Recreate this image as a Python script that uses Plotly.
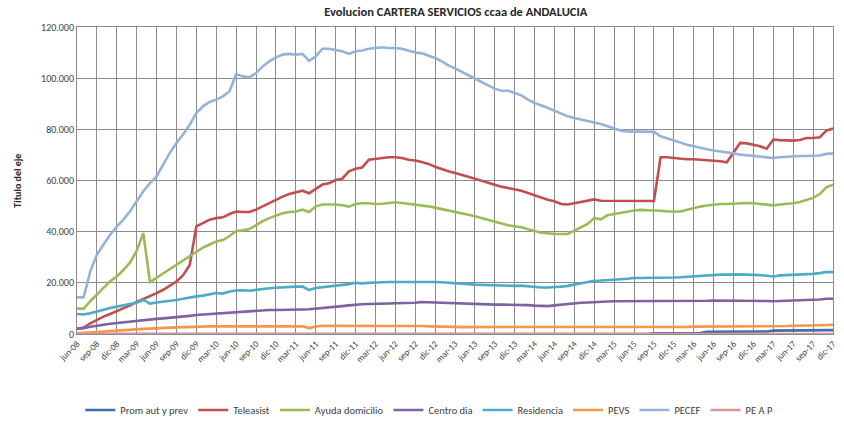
import plotly.graph_objects as go

# month axis: jun-08 .. dic-17
month_names = ["ene", "feb", "mar", "abr", "may", "jun", "jul", "ago", "sep", "oct", "nov", "dic"]
years = ["08", "09", "10", "11", "12", "13", "14", "15", "16", "17"]
months = [m + "-" + y for y in years for m in month_names][5:]

prom_aut = [0] * 87 + [300, 300, 300, 300, 300, 300, 400, 400,
                       900, 900, 900, 900, 900, 900, 900, 900, 1000, 1000,
                       1300, 1300, 1300, 1400, 1400, 1400, 1400, 1500, 1500, 1500]

teleasist = [2000, 2500, 4200, 5600, 6800, 7800, 8900, 9900, 11200, 12500,
             13600, 14800, 16000, 17300, 19000, 20500, 23000, 27000, 42100, 43400,
             44700, 45300, 45600, 46900, 47900, 47700, 47700, 48600, 49900, 51200,
             52500, 53700, 54700, 55400, 56000, 55000, 56800, 58400, 58900, 60200,
             60700, 63600, 64600, 65100, 68100, 68400, 68800, 69100, 69100, 68800,
             68100, 67800, 67200, 66500, 65400, 64400, 63600, 62900, 62300, 61500,
             60700, 59900, 59200, 58400, 57600, 57100, 56600, 56000, 55100, 54200,
             53200, 52500, 51900, 50800, 50600, 51100, 51500, 51900, 52600, 52100,
             52100, 51900, 51900, 51900, 51900, 51900, 51900, 52000, 69100, 69100,
             68800, 68500, 68300, 68300, 68100, 68000, 67800, 67500, 67100, 70800,
             74700, 74500, 74000, 73400, 72400, 76000, 75800, 75600, 75600, 75800,
             76600, 76600, 76900, 79500, 80300]

ayuda = [9900, 9900, 12800, 15600, 18000, 20600, 22500, 25000, 28000, 32500,
         39500, 20300, 22000, 23700, 25400, 27000, 28600, 30400, 32300, 33800,
         35000, 36200, 36700, 38300, 40300, 40500, 41000, 42700, 44100, 45300,
         46400, 47200, 47700, 47900, 48600, 47700, 49900, 50600, 50600, 50600,
         50300, 49800, 50800, 51100, 51100, 50800, 50900, 51300, 51500, 51200,
         50900, 50700, 50400, 49900, 49400, 48900, 48300, 47800, 47200, 46600,
         46000, 45300, 44600, 43800, 43100, 42500, 42100, 41700, 40900, 40100,
         39600, 39400, 39100, 39100, 39100, 40400, 41700, 43000, 45300, 44800,
         46400, 46900, 47300, 47900, 48300, 48500, 48500, 48300, 48200, 47900,
         47900, 47900, 48600, 49300, 49800, 50200, 50600, 50800, 50800, 50900,
         51200, 51200, 51100, 50900, 50600, 50300, 50600, 50800, 51100, 51600,
         52400, 53200, 54700, 57300, 58400]

centro_dia = [2100, 2300, 2800, 3300, 3600, 4000, 4300, 4600, 4900, 5200,
              5400, 5600, 5900, 6100, 6300, 6500, 6800, 7100, 7400, 7600,
              7900, 8100, 8200, 8400, 8600, 8700, 8900, 9100, 9300, 9400,
              9400, 9400, 9500, 9500, 9600, 9700, 9900, 10100, 10300, 10600,
              10900, 11200, 11500, 11600, 11700, 11700, 11800, 11900, 12000, 12000,
              12100, 12200, 12500, 12400, 12200, 12100, 12000, 12000, 11900, 11800,
              11700, 11700, 11600, 11500, 11500, 11500, 11500, 11400, 11300, 11100,
              11000, 10900, 11200, 11500, 11800, 12000, 12200, 12300, 12500, 12600,
              12700, 12800, 12800, 12800, 12800, 12800, 12800, 12800, 12900, 12900,
              13000, 13000, 13000, 13000, 13000, 13000, 13100, 13100, 13000, 13000,
              13000, 13100, 13100, 13000, 12900, 12800, 12900, 13000, 13000, 13100,
              13200, 13300, 13500, 13800, 13800]

residencia = [7800, 7600, 8100, 8900, 9500, 10200, 10700, 11200, 11700, 12200,
              13300, 11900, 12300, 12600, 13000, 13300, 13800, 14300, 14700, 15000,
              15600, 16000, 15800, 16600, 17000, 17100, 16900, 17300, 17600, 17900,
              18100, 18300, 18400, 18500, 18500, 17200, 18000, 18300, 18500, 18700,
              19000, 19500, 20000, 19800, 20000, 20200, 20200, 20300, 20300, 20300,
              20400, 20500, 20500, 20500, 20300, 20200, 20100, 19900, 19700, 19500,
              19300, 19200, 19100, 19000, 18900, 18800, 18800, 18900, 18600, 18400,
              18200, 18200, 18300, 18500, 18800, 19300, 19800, 20300, 20800, 20900,
              21000, 21200, 21400, 21600, 21900, 21900, 21900, 22000, 22100, 22100,
              22100, 22200, 22400, 22500, 22700, 23000, 23200, 23200, 23200, 23300,
              23300, 23200, 23200, 23000, 22800, 22500, 22900, 23000, 23200, 23300,
              23400, 23500, 23800, 24200, 24200]

pevs = [300, 400, 600, 800, 1000, 1200, 1300, 1500, 1600, 1800,
        2000, 2100, 2300, 2400, 2500, 2600, 2700, 2800, 3000, 3000,
        3000, 3000, 3000, 3000, 3000, 3000, 3000, 3000, 3000, 3000,
        3000, 3000, 3000, 3000, 3000, 2300, 2900, 3200, 3200, 3300,
        3300, 3300, 3300, 3300, 3300, 3300, 3300, 3300, 3300, 3300,
        3300, 3200, 3100, 3000, 3000, 2900, 2900, 2800, 2700, 2700,
        2600, 2600, 2600, 2600, 2600, 2600, 2600, 2600, 2600, 2600,
        2600, 2600, 2600, 2600, 2600, 2600, 2600, 2600, 2600, 2600,
        2600, 2600, 2600, 2600, 2600, 2600, 2700, 2700, 2700, 2700,
        2700, 2800, 2800, 2900, 2900, 3000, 3100, 3100, 3100, 3100,
        3100, 3100, 3100, 3000, 2900, 3000, 3100, 3100, 3200, 3200,
        3300, 3300, 3400, 3500, 3600]

pecef = [14300, 14300, 24500, 31000, 35000, 38800, 42000, 44700, 48000, 51900,
         55800, 59000, 61600, 66200, 70800, 74700, 78000, 81800, 86400, 89000,
         90700, 91600, 92900, 94900, 101600, 100700, 100300, 102000, 104600, 106600,
         108100, 109200, 109500, 109200, 109500, 106800, 108500, 111500, 111500, 111000,
         110500, 109500, 110500, 110800, 111500, 111800, 112100, 111800, 111800, 111500,
         110800, 110000, 109700, 108900, 107900, 106600, 105000, 103800, 102400, 101100,
         99800, 98500, 97200, 95900, 95100, 95100, 94200, 93300, 91600, 90300,
         89400, 88300, 87300, 86000, 85100, 84400, 83800, 83400, 82900, 82100,
         81200, 80300, 79500, 79200, 79200, 79200, 79200, 79000, 77300, 76400,
         75600, 74800, 74000, 73400, 72700, 72200, 71700, 71400, 71100, 70600,
         70100, 69800, 69600, 69300, 69100, 68800, 69100, 69300, 69600, 69600,
         69600, 69600, 69800, 70400, 70600]

pe_a_p = [0] * len(months)

series = [
    ("Prom aut y prev", prom_aut, "#3E6DB0"),
    ("Teleasist", teleasist, "#C0504D"),
    ("Ayuda domicilio", ayuda, "#9BBB59"),
    ("Centro dia", centro_dia, "#7E62A1"),
    ("Residencia", residencia, "#4BACC6"),
    ("PEVS", pevs, "#F79646"),
    ("PECEF", pecef, "#95B3D7"),
    ("PE A P", pe_a_p, "#D99694"),
]

fig = go.Figure()
for name, vals, color in series:
    fig.add_trace(go.Scatter(x=months, y=vals, mode="lines", name=name,
                             line=dict(color=color, width=2.6)))

font_family = "Carlito, Lato, Liberation Sans, sans-serif"

fig.update_layout(
    width=844, height=424,
    margin=dict(l=77, r=6, t=27, b=90),
    paper_bgcolor="white", plot_bgcolor="white",
    separators=",.",
    font=dict(family=font_family, size=10, color="#404040"),
    title=dict(text="<b>Evolucion CARTERA SERVICIOS ccaa de ANDALUCIA</b>",
               x=0.54, xanchor="center", y=0.972, yanchor="middle",
               font=dict(size=12.5, color="#262626")),
    legend=dict(orientation="h", x=0.466, xanchor="center", yref="container",
                y=0.033, yanchor="middle", font=dict(size=10.5, color="#404040"),
                itemwidth=30, tracegroupgap=0),
    showlegend=True,
)

fig.update_xaxes(
    type="category", range=[0, len(months) - 1],
    tickvals=months[::3], tickangle=-45, ticklabeloverflow="allow",
    tickfont=dict(size=9), showgrid=True, gridcolor="#8C8C8C", gridwidth=1,
    showline=True, linecolor="#8C8C8C", ticks="", mirror=True,
)
fig.update_yaxes(
    range=[0, 120000], dtick=20000, tickformat=",d",
    tickfont=dict(size=10), showgrid=True, gridcolor="#8C8C8C", gridwidth=1,
    showline=True, linecolor="#8C8C8C", mirror=True, zeroline=False, ticks="",
)

fig.add_annotation(text="<b>Titulo del eje</b>", textangle=-90, showarrow=False,
                   xref="paper", yref="paper", x=-0.079, y=0.5,
                   xanchor="center", yanchor="middle",
                   font=dict(size=10, color="#262626"))

# drop the browser's default body margin so the figure sits at the page corner
fig.write_html("out.html", config={"displayModeBar": False},
               post_script="document.body.style.margin='0';")
